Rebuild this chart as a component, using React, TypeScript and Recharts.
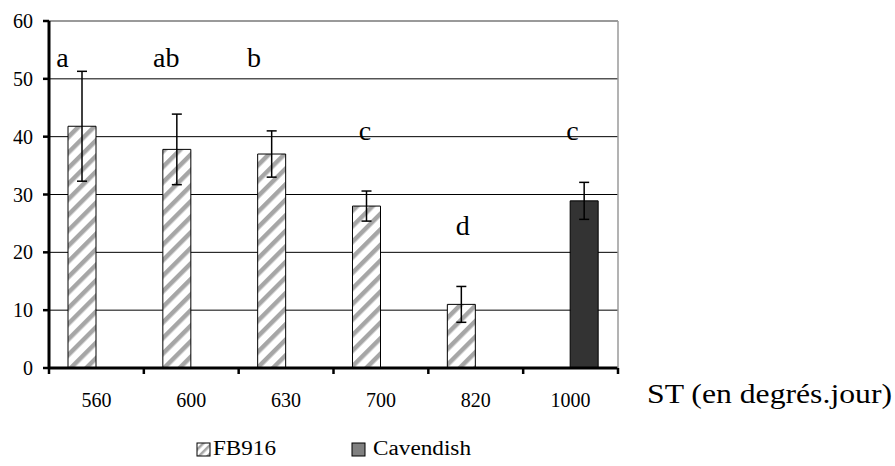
import React from 'react';
import { BarChart, Bar, XAxis, YAxis, CartesianGrid, ErrorBar, ReferenceLine, ReferenceDot } from 'recharts';

const categories = ['560', '600', '630', '700', '820', '1000'];
const fb916 = [41.8, 37.8, 37.0, 28.0, 11.0, null];
const fb916Err = [9.5, 6.1, 4.0, 2.6, 3.1, null];
const cavendish = [null, null, null, null, null, 28.9];
const cavendishErr = [null, null, null, null, null, 3.2];
const letters = ['a', 'ab', 'b', 'c', 'd', 'c'];
const letterHeights = [52, 52, 52, 39.5, 23, 39.5];
const yTicks = [0, 10, 20, 30, 40, 50, 60];
const seriesNames = ['FB916', 'Cavendish'];
const axisTitle = 'ST (en degrés.jour)';

const data = categories.map((c, i) => ({
  cat: c,
  fb916: fb916[i],
  fbErr: fb916Err[i],
  cav: cavendish[i],
  cavErr: cavendishErr[i],
}));

const FONT = 'Liberation Serif, LiberationSerif, Times New Roman, Times, serif';
const LETTER_DX = [-34, -25, -32, -16, -13, 2];

const XTick = (props: any) => {
  const { x, y, payload, index } = props;
  const off = payload.offset || 0;
  const axisY = y - 6;
  const last = index === categories.length - 1;
  return (
    <g>
      <line x1={x - off} x2={x - off} y1={axisY} y2={axisY + 6} stroke="#000" strokeWidth={2.5} />
      {last && <line x1={x + off} x2={x + off} y1={axisY} y2={axisY + 6} stroke="#000" strokeWidth={2.5} />}
      <text x={x} y={y} dy={33} textAnchor="middle" fontSize={20} style={{ fontFamily: FONT }} fill="#000">
        {payload.value}
      </text>
    </g>
  );
};

const YTick = (props: any) => {
  const { x, y, payload } = props;
  return (
    <text x={x} y={y} dy={7} textAnchor="end" fontSize={20} style={{ fontFamily: FONT }} fill="#000">
      {payload.value}
    </text>
  );
};

const AxisExtras = (props: any) => {
  const vb = props.viewBox || { x: 49, y: 368, width: 569, height: 30 };
  const right = vb.x + vb.width;
  const ay = vb.y;
  return (
    <g style={{ fontFamily: FONT }}>
      <text x={right + 29} y={ay + 35} fontSize={27} fill="#000" textLength={245} lengthAdjust="spacingAndGlyphs">
        {axisTitle}
      </text>
      <rect x={197} y={ay + 75} width={13} height={13} fill="url(#hatchSmall)" stroke="#000" strokeWidth={1} />
      <text x={213} y={ay + 87} fontSize={20} fill="#000" textLength={63} lengthAdjust="spacingAndGlyphs">
        {seriesNames[0]}
      </text>
      <rect x={352} y={ay + 75} width={13} height={13} fill="#808080" stroke="#000" strokeWidth={1} />
      <text x={373} y={ay + 87} fontSize={20} fill="#000" textLength={98} lengthAdjust="spacingAndGlyphs">
        {seriesNames[1]}
      </text>
    </g>
  );
};

export default function App() {
  return (
    <div style={{ position: 'absolute', left: 0, top: 0, width: 895, height: 466, background: '#fff' }}>
      <BarChart
        width={895}
        height={466}
        data={data}
        margin={{ top: 21, right: 276, bottom: 68, left: 0 }}
        barGap={0}
      >
        <defs>
          <pattern id="hatch" patternUnits="userSpaceOnUse" width="11" height="11" patternTransform="rotate(45)">
            <rect x="0" y="0" width="11" height="11" fill="#fff" />
            <rect x="0" y="0" width="4.5" height="11" fill="#a6a6a6" />
          </pattern>
          <pattern id="hatchSmall" patternUnits="userSpaceOnUse" width="6" height="6" patternTransform="rotate(45)">
            <rect x="0" y="0" width="6" height="6" fill="#fff" />
            <rect x="0" y="0" width="2.5" height="6" fill="#a6a6a6" />
          </pattern>
        </defs>
        <CartesianGrid yAxisId="l" vertical={false} stroke="#000" strokeWidth={1} />
        <XAxis
          dataKey="cat"
          yAxisId="l"
          height={30}
          tickLine={false}
          tickSize={6}
          tickMargin={0}
          axisLine={{ stroke: '#000', strokeWidth: 3 }}
          tick={<XTick />}
          interval={0}
          label={{ content: (p: any) => <AxisExtras {...p} /> }}
        />
        <YAxis
          yAxisId="l"
          width={49}
          domain={[0, 60]}
          ticks={yTicks}
          interval={0}
          tickSize={6}
          tickMargin={10}
          tickLine={{ stroke: '#000', strokeWidth: 2.5 }}
          axisLine={{ stroke: '#000', strokeWidth: 3 }}
          tick={<YTick />}
        />
        <YAxis
          yAxisId="r"
          orientation="right"
          width={1}
          domain={[0, 60]}
          tick={false}
          tickLine={false}
          axisLine={{ stroke: '#9a9a9a', strokeWidth: 1.5 }}
        />
        <ReferenceLine yAxisId="l" y={60} stroke="#9a9a9a" strokeWidth={2} />
        <Bar yAxisId="l" dataKey="fb916" fill="url(#hatch)" stroke="#000" strokeWidth={1} barSize={28} isAnimationActive={false}>
          <ErrorBar dataKey="fbErr" width={5} stroke="#000" strokeWidth={1.5} />
        </Bar>
        <Bar yAxisId="l" dataKey="cav" fill="#333333" stroke="#000" strokeWidth={1} barSize={28} isAnimationActive={false}>
          <ErrorBar dataKey="cavErr" width={5} stroke="#000" strokeWidth={1.5} />
        </Bar>
        {categories.map((c, i) => (
          <ReferenceDot
            key={'l' + i}
            yAxisId="l"
            x={c}
            y={letterHeights[i]}
            r={0}
            shape={(p: any) => (
              <text x={p.cx + LETTER_DX[i]} y={p.cy} textAnchor="middle" fontSize={28} style={{ fontFamily: FONT }} fill="#000">
                {letters[i]}
              </text>
            )}
          />
        ))}
      </BarChart>
    </div>
  );
}
